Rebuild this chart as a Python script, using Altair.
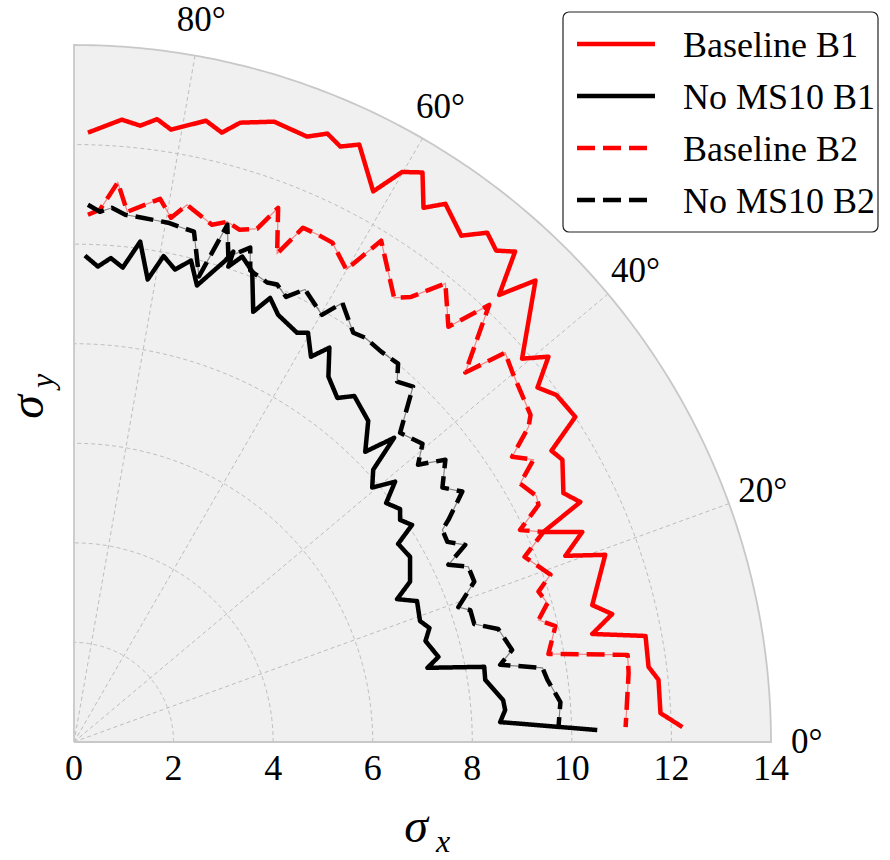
import altair as alt
import numpy as np
import pandas as pd

# ---------------- data (sigma_x, sigma_y) ----------------
SERIES = ["Baseline B1", "No MS10 B1", "Baseline B2", "No MS10 B2"]
COLORS = ["#ff0000", "#000000", "#ff0000", "#000000"]

b1_sx = [0.28, 0.96, 1.33, 1.67, 1.95, 2.65, 2.97, 3.34, 4.02, 4.68, 5.09, 5.35, 5.73, 6.01, 6.59,
         7.00, 7.02, 7.46, 7.78, 8.30, 8.48, 8.86, 8.54, 9.27, 9.00, 9.53, 9.31, 9.69, 10.07, 9.59,
         9.81, 9.83, 10.17, 9.43, 10.21, 9.87, 10.67, 10.41, 10.81, 10.41, 11.48, 11.54, 11.74, 11.78, 12.22]
b1_sy = [12.24, 12.50, 12.38, 12.51, 12.30, 12.48, 12.24, 12.44, 12.46, 12.16, 12.22, 11.96, 12.00, 11.06, 11.45,
         11.44, 10.73, 10.81, 10.17, 10.23, 9.87, 9.85, 8.98, 9.27, 7.70, 7.74, 7.12, 6.97, 6.53, 5.85,
         5.67, 5.00, 4.82, 4.22, 4.22, 3.74, 3.76, 2.75, 2.57, 2.17, 2.13, 1.51, 1.25, 0.58, 0.30]

nm1_sx = [0.22, 0.48, 0.74, 0.98, 1.33, 1.48, 1.80, 2.03, 2.35, 2.47, 3.04, 3.20, 3.10, 3.38, 3.58,
          3.60, 3.94, 4.10, 4.48, 4.70, 4.76, 5.13, 5.11, 5.29, 5.63, 5.91, 5.85, 6.43, 6.01, 5.99,
          6.45, 6.27, 6.55, 6.55, 6.79, 6.51, 6.75, 6.75, 6.49, 6.89, 6.95, 7.14, 7.06, 7.32, 7.10,
          8.24, 8.26, 8.62, 8.66, 8.56, 10.51]
nm1_sy = [9.77, 9.55, 9.72, 9.53, 10.05, 9.29, 9.76, 9.49, 9.67, 9.17, 9.67, 9.85, 9.55, 9.75, 9.45,
          8.64, 8.92, 8.58, 8.22, 8.22, 7.74, 7.92, 7.34, 6.91, 6.95, 6.45, 5.83, 6.11, 5.47, 5.11,
          5.23, 4.80, 4.68, 4.46, 4.36, 3.98, 3.72, 3.22, 2.87, 2.83, 2.43, 2.29, 2.03, 1.71, 1.49,
          1.51, 1.25, 0.84, 0.64, 0.40, 0.24]

b2_sx = [0.28, 0.52, 0.88, 1.07, 1.73, 1.95, 2.27, 2.77, 3.08, 3.32, 3.68, 4.10, 4.08, 4.60, 4.90,
         5.19, 5.47, 6.17, 6.43, 6.77, 7.46, 7.52, 8.34, 7.86, 8.66, 8.80, 9.17, 9.13, 8.80, 9.23,
         8.96, 9.29, 9.33, 8.96, 9.43, 9.05, 9.57, 9.33, 9.51, 9.33, 9.67, 9.53, 11.12, 11.14, 11.08]
b2_sy = [10.59, 10.69, 11.24, 10.65, 10.91, 10.53, 10.79, 10.39, 10.45, 10.29, 10.31, 10.73, 9.81, 10.33, 10.19,
         10.03, 9.49, 10.07, 8.92, 8.94, 9.21, 8.34, 8.78, 7.42, 7.82, 7.44, 6.57, 6.33, 5.73, 5.67,
         5.19, 4.94, 4.76, 4.26, 4.22, 3.72, 3.36, 3.02, 2.79, 2.45, 2.33, 1.77, 1.75, 1.39, 0.30]

nm2_sx = [0.28, 0.52, 0.76, 1.03, 1.37, 1.89, 2.17, 2.41, 2.51, 3.08, 3.10, 3.54, 3.54, 3.88, 4.08,
          4.26, 4.64, 4.98, 5.39, 5.61, 5.85, 6.17, 6.51, 6.49, 6.81, 6.55, 7.00, 6.91, 7.46, 7.40,
          7.80, 7.52, 7.40, 7.50, 7.86, 7.52, 7.92, 8.04, 7.72, 7.96, 8.04, 8.52, 8.80, 8.56, 9.41,
          9.51, 9.77, 9.73]
nm2_sy = [10.79, 10.65, 10.73, 10.59, 10.53, 10.43, 10.33, 10.25, 9.35, 10.39, 9.75, 9.93, 9.47, 9.23, 9.19,
          8.94, 9.09, 8.58, 8.82, 8.22, 8.12, 7.84, 7.60, 7.24, 7.14, 6.21, 5.99, 5.57, 5.67, 5.11,
          5.03, 4.46, 4.26, 4.02, 3.96, 3.56, 3.52, 3.22, 2.71, 2.65, 2.37, 2.27, 1.85, 1.55, 1.49,
          1.25, 0.80, 0.28]

R_MAX = 14
GRID_R = [2, 4, 6, 8, 10, 12]
SPOKES = [20, 40, 60, 80]
ANGLE_TICKS = [0, 20, 40, 60, 80]
ANGLE_TEXT = ["0°", "20°", "40°", "60°", "80°"]
X_TICKS = [0, 2, 4, 6, 8, 10, 12, 14]

# ---------------- helpers ----------------
W = H = 697
FONT = "Liberation Serif"
xs = alt.Scale(domain=[0, R_MAX], nice=False, zero=False)
ys = alt.Scale(domain=[0, R_MAX], nice=False, zero=False)


def X(f):
    return alt.X(f, type="quantitative", scale=xs, axis=None)


def Y(f):
    return alt.Y(f, type="quantitative", scale=ys, axis=None)


rows = []
for name, sx, sy in zip(SERIES, [b1_sx, nm1_sx, b2_sx, nm2_sx], [b1_sy, nm1_sy, b2_sy, nm2_sy]):
    for i, (a, b) in enumerate(zip(sx, sy)):
        rows.append({"series": name, "idx": i, "sx": a, "sy": b})
series_df = pd.DataFrame(rows)

color_enc = alt.Color("series:N", scale=alt.Scale(domain=SERIES, range=COLORS), legend=None)
dash_enc = alt.StrokeDash("series:N",
                          scale=alt.Scale(domain=SERIES, range=[[1, 0], [1, 0], [18, 8], [18, 8]]),
                          legend=None)

# background quarter disk
sweep = pd.DataFrame({"deg": np.linspace(0, 90, 361)})
background = alt.Chart(sweep).transform_calculate(
    bx=f"{R_MAX}*cos(datum.deg*PI/180)", by=f"{R_MAX}*sin(datum.deg*PI/180)", b0="0"
).mark_area(color="#f0f0f0").encode(x=X("bx"), y=Y("by"), y2=alt.Y2("b0:Q"))

# grid circles
grid_df = pd.DataFrame([(r, d) for r in GRID_R for d in np.linspace(0, 90, 181)], columns=["r", "deg"])
grid = alt.Chart(grid_df).transform_calculate(
    gx="datum.r*cos(datum.deg*PI/180)", gy="datum.r*sin(datum.deg*PI/180)"
).mark_line(color="#bdbdbd", strokeWidth=1, strokeDash=[4, 3]).encode(
    x=X("gx"), y=Y("gy"), detail="r:N", order="deg:Q")

# spokes
spokes = alt.Chart(pd.DataFrame({"deg": SPOKES})).transform_calculate(
    ox="0", oy="0",
    ex=f"{R_MAX}*cos(datum.deg*PI/180)", ey=f"{R_MAX}*sin(datum.deg*PI/180)"
).mark_rule(color="#bdbdbd", strokeWidth=1, strokeDash=[4, 3]).encode(
    x=X("ox"), y=Y("oy"), x2="ex:Q", y2="ey:Q")

# outer frame (bottom edge, arc, left edge)
frame_deg = np.linspace(0, 90, 181)
frame_df = pd.DataFrame({
    "fx": [0.0] + list(R_MAX * np.cos(np.radians(frame_deg))) + [0.0],
    "fy": [0.0] + list(R_MAX * np.sin(np.radians(frame_deg))) + [0.0],
})
frame_df["k"] = range(len(frame_df))
frame = alt.Chart(frame_df).mark_line(color="#c8c8c8", strokeWidth=1.8).encode(
    x=X("fx"), y=Y("fy"), order="k:Q")

# series: thin under-lines for dashed series, then main lines
thin = alt.Chart(series_df).transform_filter(
    alt.FieldOneOfPredicate(field="series", oneOf=["Baseline B2", "No MS10 B2"])
).mark_line(strokeWidth=1.2, opacity=0.45).encode(
    x=X("sx"), y=Y("sy"), color=color_enc, order="idx:Q")

lines = alt.Chart(series_df).mark_line(strokeWidth=4.5, strokeJoin="round").encode(
    x=X("sx"), y=Y("sy"), color=color_enc, strokeDash=dash_enc, order="idx:Q")

# x tick labels
ticks = alt.Chart(pd.DataFrame({"t": X_TICKS})).transform_calculate(zero="0").mark_text(
    font=FONT, fontSize=36, baseline="middle", align="center", dy=27, color="black"
).encode(x=X("t"), y=Y("zero"), text=alt.Text("t:Q"))

# angle labels
alabels = alt.Chart(pd.DataFrame({"deg": ANGLE_TICKS, "lab": ANGLE_TEXT})).transform_calculate(
    lx="14.72*cos(datum.deg*PI/180)", ly="14.72*sin(datum.deg*PI/180)"
).mark_text(font=FONT, fontSize=35, baseline="middle", align="center", color="black").encode(
    x=X("lx"), y=Y("ly"), text="lab:N")

one = pd.DataFrame({"a": [0]})

# axis titles (sigma with subscript)
sx_sigma = alt.Chart(one).mark_text(font=FONT, fontStyle="italic", fontSize=48, align="center",
                                    baseline="middle", color="black").encode(
    x=alt.value(342), y=alt.value(783), text=alt.value("σ"))
sx_sub = alt.Chart(one).mark_text(font=FONT, fontStyle="italic", fontSize=32, align="center",
                                  baseline="middle", color="black").encode(
    x=alt.value(369), y=alt.value(797), text=alt.value("x"))
sy_sigma = alt.Chart(one).mark_text(font=FONT, fontStyle="italic", fontSize=48, align="center",
                                    baseline="middle", angle=270, color="black").encode(
    x=alt.value(-45), y=alt.value(362), text=alt.value("σ"))
sy_sub = alt.Chart(one).mark_text(font=FONT, fontStyle="italic", fontSize=32, align="center",
                                  baseline="middle", angle=270, color="black").encode(
    x=alt.value(-31), y=alt.value(336), text=alt.value("y"))

# legend (drawn manually)
leg_box = alt.Chart(one).mark_rect(fill="white", stroke="#222222", strokeWidth=1.2, cornerRadius=6).encode(
    x=alt.value(489), x2=alt.value(804), y=alt.value(-33), y2=alt.value(187))
leg_layers = [leg_box]
leg_dash = [None, None, [18, 8], [18, 8]]
for k, name in enumerate(SERIES):
    yk = -1 + 52 * k
    kw = dict(strokeWidth=4.5, color=COLORS[k])
    if leg_dash[k] is not None:
        kw["strokeDash"] = leg_dash[k]
    leg_layers.append(alt.Chart(one).mark_rule(**kw).encode(
        x=alt.value(503), x2=alt.value(581), y=alt.value(yk)))
    leg_layers.append(alt.Chart(one).mark_text(font=FONT, fontSize=36, align="left", baseline="middle",
                                               color="black").encode(
        x=alt.value(609), y=alt.value(yk + 2), text=alt.value(name)))

chart = alt.layer(
    background, grid, spokes, frame, thin, lines, ticks, alabels,
    sx_sigma, sx_sub, sy_sigma, sy_sub, *leg_layers
).properties(
    width=W, height=H,
    padding={"left": 74, "top": 45, "right": 119, "bottom": 118},
    autosize=alt.AutoSizeParams(type="none"),
    background="white",
).configure_view(stroke=None)

chart.save("out.html", embed_options={"renderer": "svg", "actions": False})
